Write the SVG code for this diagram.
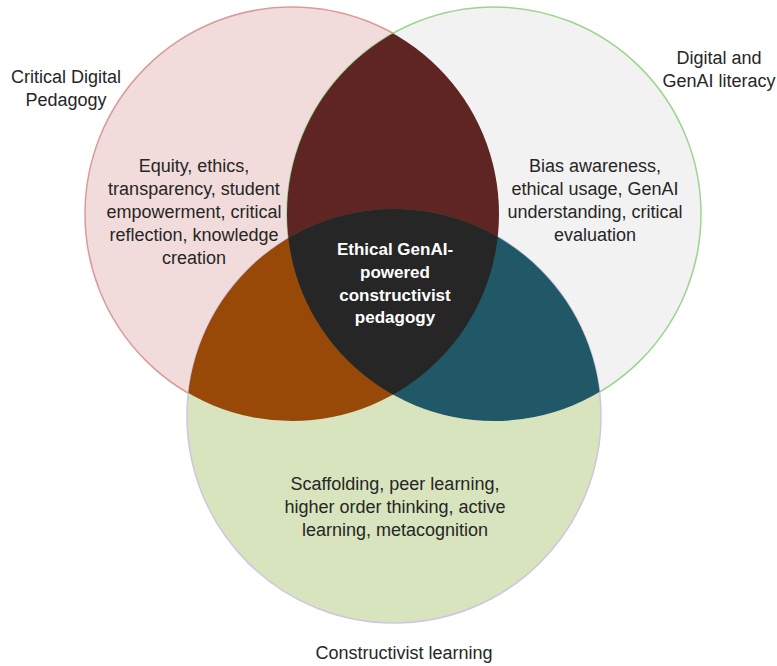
<svg xmlns="http://www.w3.org/2000/svg" width="777" height="666" viewBox="0 0 777 666">
<style>
text{font-family:"Liberation Sans",Arial,sans-serif;font-size:18px;fill:#262626;text-anchor:middle}
.c{font-weight:bold;fill:#ffffff;font-size:17px}
</style>
<defs>
<clipPath id="cl"><circle cx="292" cy="214" r="207"/></clipPath>
<clipPath id="cr"><circle cx="494" cy="214" r="207"/></clipPath>
<clipPath id="cb"><circle cx="394" cy="416" r="207"/></clipPath>
</defs>
<g id="circle-critical"><circle cx="292" cy="214" r="207" fill="#F2DCDB" stroke="#DA9B98" stroke-width="1.5"/></g>
<g id="circle-digital"><circle cx="494" cy="214" r="207" fill="#F2F2F2" stroke="#9BD58F" stroke-width="1.5"/></g>
<g id="circle-constructivist"><circle cx="394" cy="416" r="207" fill="#D7E4BD" stroke="#CFC6DD" stroke-width="1.5"/></g>
<g id="overlap-left-right" clip-path="url(#cl)"><circle cx="494" cy="214" r="207" fill="#5F2522"/></g>
<g id="overlap-left-bottom" clip-path="url(#cl)"><circle cx="394" cy="416" r="207" fill="#984807"/></g>
<g id="overlap-right-bottom" clip-path="url(#cr)"><circle cx="394" cy="416" r="207" fill="#215867"/></g>
<g id="overlap-center" clip-path="url(#cl)"><g clip-path="url(#cr)"><circle cx="394" cy="416" r="207" fill="#262626"/></g></g>
<g id="label-critical"><text x="66" y="83">Critical Digital</text><text x="66" y="106">Pedagogy</text></g>
<g id="label-digital"><text x="719" y="64">Digital and</text><text x="719" y="87">GenAI literacy</text></g>
<g id="label-constructivist"><text x="404" y="659">Constructivist learning</text></g>
<g id="text-critical"><text x="194" y="172">Equity, ethics,</text><text x="194" y="195">transparency, student</text><text x="194" y="218">empowerment, critical</text><text x="194" y="241">reflection, knowledge</text><text x="194" y="264">creation</text></g>
<g id="text-digital"><text x="595" y="172">Bias awareness,</text><text x="595" y="195">ethical usage, GenAI</text><text x="595" y="218">understanding, critical</text><text x="595" y="241">evaluation</text></g>
<g id="text-constructivist"><text x="395" y="490">Scaffolding, peer learning,</text><text x="395" y="513">higher order thinking, active</text><text x="395" y="536">learning, metacognition</text></g>
<g id="text-center"><text class="c" x="395" y="255">Ethical GenAI-</text><text class="c" x="395" y="278">powered</text><text class="c" x="395" y="301">constructivist</text><text class="c" x="395" y="323">pedagogy</text></g>
</svg>
